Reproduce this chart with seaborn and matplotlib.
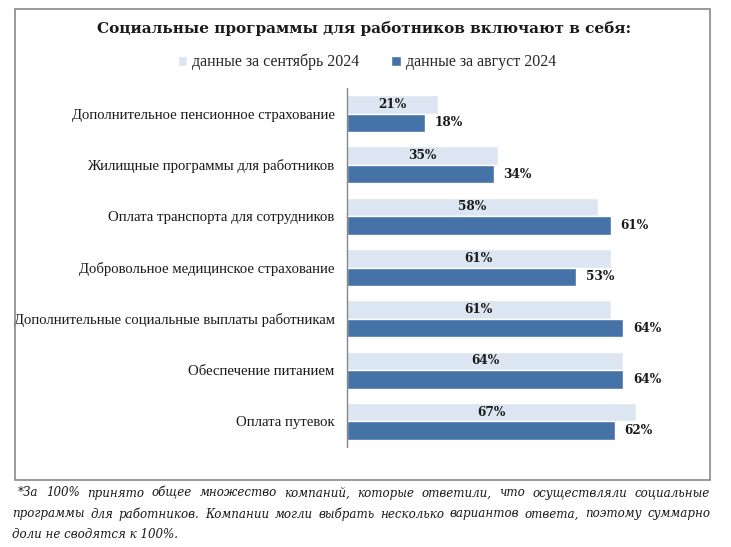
import matplotlib
matplotlib.use("Agg")
import matplotlib.pyplot as plt
from matplotlib.patches import Rectangle
import seaborn as sns
import pandas as pd

# данные
categories = [
    "Дополнительное пенсионное страхование",
    "Жилищные программы для работников",
    "Оплата транспорта для сотрудников",
    "Добровольное медицинское страхование",
    "Дополнительные социальные выплаты работникам",
    "Обеспечение питанием",
    "Оплата путевок",
]
sep_2024 = [21, 35, 58, 61, 61, 64, 67]
aug_2024 = [18, 34, 61, 53, 64, 64, 62]
series_names = ["данные за сентябрь 2024", "данные за август 2024"]
colors = ["#DCE6F2", "#4572A7"]

title = "Социальные программы для работников включают в себя:"
footnote_lines = [
    " *За 100% принято общее множество компаний, которые ответили, что осуществляли социальные",
    "программы для работников. Компании могли выбрать несколько вариантов ответа, поэтому суммарно",
    "доли не сводятся к 100%.",
]

df = pd.DataFrame({
    "cat": categories * 2,
    "val": sep_2024 + aug_2024,
    "series": [series_names[0]] * len(categories) + [series_names[1]] * len(categories),
})

sns.set_style("white")
plt.rcParams["font.family"] = ["DejaVu Serif"]

W, H = 731, 547
fig = plt.figure(figsize=(W / 100, H / 100), dpi=100)

# рамка вокруг диаграммы
fig.patches.append(Rectangle((15 / W, 1 - 480 / H), 695 / W, 471 / H,
                             transform=fig.transFigure, fill=False,
                             edgecolor="#898989", linewidth=1.2))

ax = fig.add_axes([347 / W, 1 - 447 / H, 80 * 4.32 / W, 359 / H])
sns.barplot(data=df, y="cat", x="val", hue="series", hue_order=series_names,
            orient="h", palette=colors, saturation=1, width=0.72, ax=ax,
            legend=True)
ax.set_xlim(0, 80)
ax.set_xlabel("")
ax.set_ylabel("")
ax.set_xticks([])
for s in ["top", "right", "bottom"]:
    ax.spines[s].set_visible(False)
ax.spines["left"].set_color("#868686")
ax.spines["left"].set_linewidth(1.0)
ax.tick_params(axis="y", length=0, pad=9)
for lbl in ax.get_yticklabels():
    lbl.set_fontfamily("Liberation Serif")
    lbl.set_fontsize(10.6)
    lbl.set_color("#1a1a1a")

ax.bar_label(ax.containers[0], labels=[f"{v}%" for v in sep_2024],
             label_type="center", fontsize=8.7, fontweight="bold", color="#1a1a1a")
ax.bar_label(ax.containers[1], labels=[f"{v}%" for v in aug_2024],
             label_type="edge", padding=7, fontsize=8.7, fontweight="bold", color="#1a1a1a")

handles, labels = ax.get_legend_handles_labels()
ax.get_legend().remove()
fig.legend(handles, labels, loc="center", bbox_to_anchor=(367 / W, 1 - 62 / H),
           ncol=2, frameon=False, handlelength=0.6, handleheight=0.6,
           handletextpad=0.3, columnspacing=2.0,
           prop={"family": "Liberation Serif", "size": 11.5})

fig.text(364 / W, 1 - 28 / H, title, ha="center", va="center",
         fontsize=11, fontweight="bold", color="#1a1a1a")

# сноска с выравниванием по ширине
fig.canvas.draw()
renderer = fig.canvas.get_renderer()
x_left, x_right = 12, 710
ys = [493, 514, 534]
fn_props = dict(fontsize=8.6, style="italic", va="center", ha="left", color="#1a1a1a")
for i, line in enumerate(footnote_lines):
    y = 1 - ys[i] / H
    if i == len(footnote_lines) - 1:
        fig.text(x_left / W, y, line, **fn_props)
        continue
    start = x_left
    if line.startswith(" "):
        start = x_left + 6
        line = line.strip()
    words = line.split(" ")
    widths = []
    for w in words:
        t = fig.text(0, 0, w, **fn_props)
        widths.append(t.get_window_extent(renderer).width)
        t.remove()
    gap = (x_right - start - sum(widths)) / (len(words) - 1)
    x = start
    for w, wd in zip(words, widths):
        fig.text(x / W, y, w, **fn_props)
        x += wd + gap

fig.savefig("out.png", dpi=100)
